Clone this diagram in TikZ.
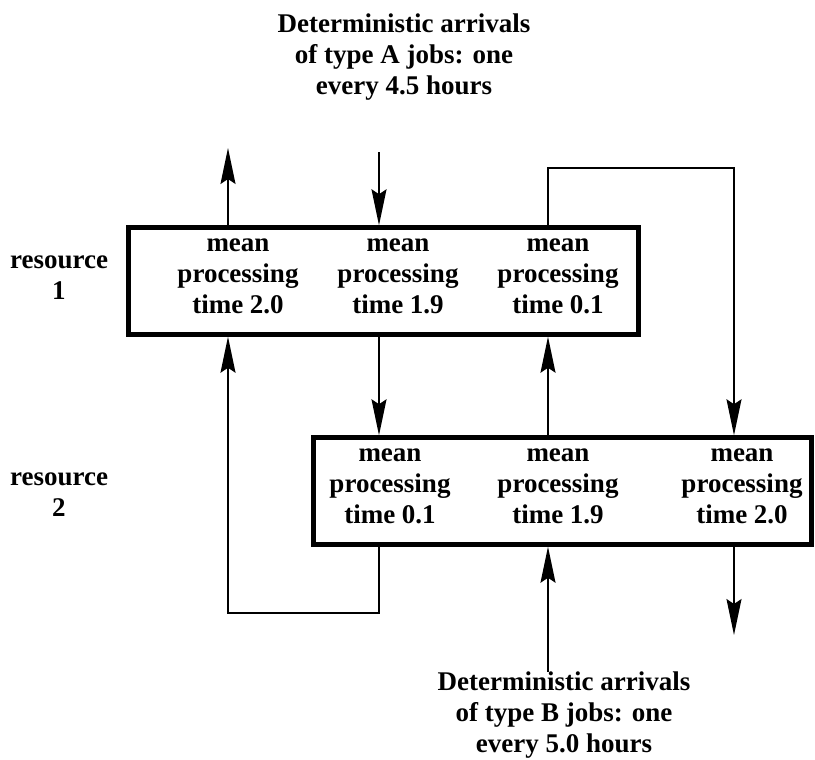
\documentclass[tikz,border=0pt]{standalone}
\usepackage{fontspec}
\setmainfont{Liberation Serif}
\usetikzlibrary{arrows.meta}

\begin{document}
\begin{tikzpicture}[x=1pt, y=-1pt,
    box/.style={draw, rectangle, line width=4.5pt, minimum height=107pt},
    task/.style={align=center, font=\fontsize{27}{31}\selectfont\bfseries},
    arr/.style={line width=1.6pt, -{Stealth[length=36pt, width=15pt, inset=5pt]}},
    wire/.style={line width=1.6pt}]
    \useasboundingbox (0,0) rectangle (815,760);

    % the two resources
    \node[box, minimum width=510pt] (res1) at (383.5,281) {};
    \node[box, minimum width=498pt] (res2) at (562.5,491) {};

    \node[task] (l1) at (59,278) {resource\\1};
    \node[task] (l2) at (59,495) {resource\\2};

    \node[task] (a1) at (238,276) {mean\\processing\\time 2.0};
    \node[task] (a2) at (398,276) {mean\\processing\\time 1.9};
    \node[task] (a3) at (558,276) {mean\\processing\\time 0.1};
    \node[task] (b1) at (390,486) {mean\\processing\\time 0.1};
    \node[task] (b2) at (558,486) {mean\\processing\\time 1.9};
    \node[task] (b3) at (742,486) {mean\\processing\\time 2.0};

    \node[task] (inAtxt) at (404,57) {Deterministic arrivals\\of type A jobs: one\\every 4.5 hours};
    \node[task] (inBtxt) at (564,715) {Deterministic arrivals\\of type B jobs: one\\every 5.0 hours};

    % columns of the connectors
    \coordinate (c1) at (228,0);
    \coordinate (c2) at (379,0);
    \coordinate (c3) at (548,0);
    \coordinate (c4) at (734,0);

    \coordinate (outA) at (228,148);
    \coordinate (inA) at (379,152);
    \coordinate (inB) at (548,672);
    \coordinate (outB) at (734,635);
    \coordinate (loopT) at (640,168);
    \coordinate (loopB) at (300,613);

    \draw[arr] (res1.north -| c1) -- (outA);
    \draw[arr] (inA) -- (res1.north -| c2);
    \draw[arr] (res1.north -| c3) |- (loopT) -| (res2.north -| c4);
    \draw[arr] (res1.south -| c2) -- (res2.north -| c2);
    \draw[arr] (res2.north -| c3) -- (res1.south -| c3);
    \draw[arr] (res2.south -| c2) |- (loopB) -| (res1.south -| c1);
    \draw[arr] (inB) -- (res2.south -| c3);
    \draw[arr] (res2.south -| c4) -- (outB);
\end{tikzpicture}
\end{document}
